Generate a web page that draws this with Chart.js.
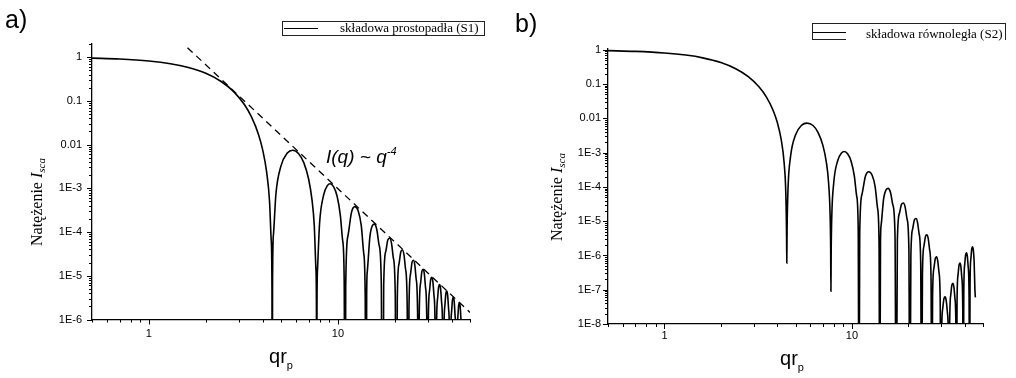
<!DOCTYPE html>
<html>
<head>
<meta charset="utf-8">
<script src="https://cdn.jsdelivr.net/npm/chart.js"></script>
<style>
  body { margin: 0; background: #fff; }
  #wrap { position: relative; width: 1016px; height: 378px; overflow: hidden; font-family: "Liberation Sans", Arial, sans-serif; color: #000; }
  canvas { position: absolute; top: 0; }
  .panel { position: absolute; font-size: 25px; line-height: 24px; }
  .xt { position: absolute; width: 100px; text-align: center; font-size: 20px; line-height: 20px; }
  .xt sub { font-size: 11px; line-height: 0; vertical-align: -6px; }
  .yt { position: absolute; width: 200px; height: 16px; text-align: center; font-family: "Liberation Serif", serif; font-size: 16px; line-height: 16px; transform: rotate(-90deg); white-space: nowrap; }
  .yt sub { font-size: 11px; line-height: 0; vertical-align: -3px; }
  .leg { position: absolute; font-family: "Liberation Serif", serif; font-size: 13px; line-height: 13px; white-space: nowrap; }
  .box { position: absolute; box-sizing: border-box; border-color: #222; border-style: solid; border-width: 0; }
  .sample { position: absolute; height: 0; border-top: 1.6px solid #000; }
  .note { position: absolute; font-style: italic; font-size: 19px; line-height: 19px; white-space: nowrap; }
  .note sup { font-size: 11px; line-height: 0; vertical-align: 8px; }
</style>
</head>
<body>
<div id="wrap">
  <canvas id="chartA" width="500" height="378" style="left:0;width:500px;height:378px"></canvas>
  <canvas id="chartB" width="516" height="378" style="left:500px;width:516px;height:378px"></canvas>

  <div class="panel" style="left:5px;top:7px">a)</div>
  <div class="panel" style="left:515px;top:11px">b)</div>

  <div class="box" style="left:282px;top:21px;width:203px;height:15px;border-width:1px"></div>
  <div class="sample" style="left:284px;top:28px;width:34px"></div>
  <div class="leg" style="left:340px;top:21px">składowa prostopadła (S1)</div>

  <div class="box" style="left:812px;top:23px;width:194px;height:17px;border-width:1px 1px 0 1px"></div>
  <div class="box" style="left:812px;top:39px;width:34px;height:1px;border-top-width:1px"></div>
  <div class="sample" style="left:813px;top:32px;width:33px"></div>
  <div class="leg" style="left:866px;top:27px">składowa równoległa (S2)</div>

  <div class="note" style="left:326px;top:147px">I(q) ~ q<sup>-4</sup></div>

  <div class="xt" style="left:231px;top:346px">qr<sub>p</sub></div>
  <div class="xt" style="left:742px;top:348px">qr<sub>p</sub></div>

  <div class="yt" style="left:-63px;top:194px">Natężenie <i>I<sub>sca</sub></i></div>
  <div class="yt" style="left:457px;top:189px">Natężenie <i>I<sub>sca</sub></i></div>
</div>

<script>
// qr_p values shared by both curves
const qX = [0.5, 0.7, 1.0, 1.3, 1.6, 2.0, 2.4, 2.8, 3.2, 3.5, 3.8, 4.0, 4.2, 4.35, 4.44, 4.48, 4.493,
  4.51, 4.56, 4.7, 5.0, 5.4, 5.76, 6.2, 6.6, 7.0, 7.3, 7.5, 7.65, 7.7, 7.725,
  7.75, 7.8, 8.0, 8.4, 8.8, 9.1, 9.5, 9.9, 10.3, 10.6, 10.8, 10.904,
  11.0, 11.3, 11.8, 12.3, 12.8, 13.3, 13.7, 13.95, 14.066,
  14.2, 14.32, 14.77, 15.22, 15.6, 16.07, 16.52, 16.97, 17.221,
  17.47, 17.92, 18.37, 18.8, 19.22, 19.67, 20.12, 20.371,
  20.62, 21.07, 21.52, 21.95, 22.37, 22.82, 23.27, 23.519,
  23.77, 24.22, 24.67, 25.09, 25.52, 25.97, 26.42, 26.666,
  26.92, 27.37, 27.82, 28.24, 28.66, 29.11, 29.56, 29.812,
  30.06, 30.51, 30.96, 31.38, 31.81, 32.26, 32.71, 32.956,
  33.21, 33.66, 34.11, 34.53, 34.95, 35.40, 35.85, 36.100,
  36.35, 36.80, 37.25, 37.67, 38.09, 38.54, 38.99, 39.244,
  39.49, 39.94, 40.39, 40.82, 41.24, 41.69, 42.14, 42.387,
  42.64, 43.09, 43.54, 43.96, 44.38, 44.83, 45.28, 45.531];

// składowa prostopadła (S1)
const iS1 = [0.951, 0.906, 0.816, 0.707, 0.587, 0.4265, 0.2816, 0.1651, 0.0824, 0.0419, 0.01713, 0.00758, 0.00231, 4.93e-4, 6.28e-5, 4.05e-6, 1e-12,
  6.08e-6, 8.66e-5, 7.4e-4, 3.26e-3, 6.40e-3, 7.43e-3, 6.21e-3, 3.87e-3, 1.633e-3, 5.30e-4, 1.396e-4, 1.45e-5, 1.66e-6, 1e-12,
  1.55e-6, 1.38e-5, 1.59e-4, 6.97e-4, 1.156e-3, 1.269e-3, 1.081e-3, 6.66e-4, 2.43e-4, 6.34e-5, 7.05e-6, 1e-12,
  5.8e-6, 8.14e-5, 2.82e-4, 3.82e-4, 3.06e-4, 1.38e-4, 3.25e-5, 3.18e-6, 1e-12,
  4.1e-6, 1.31e-5, 7.85e-5, 1.40e-4, 1.52e-4, 1.127e-4, 5.02e-5, 6.64e-6, 1e-12,
  5.91e-6, 3.62e-5, 6.60e-5, 7.2e-5, 5.51e-5, 2.5e-5, 3.36e-6, 1e-12,
  3.05e-6, 1.9e-5, 3.51e-5, 3.88e-5, 3.00e-5, 1.38e-5, 1.88e-6, 1e-12,
  1.73e-6, 1.085e-5, 2.03e-5, 2.27e-5, 1.77e-5, 8.21e-6, 1.13e-6, 1e-12,
  1.05e-6, 6.65e-6, 1.255e-5, 1.415e-5, 1.114e-5, 5.2e-6, 7.2e-7, 1e-12,
  6.7e-7, 4.31e-6, 8.18e-6, 9.28e-6, 7.34e-6, 3.45e-6, 4.8e-7, 1e-12,
  4.5e-7, 2.91e-6, 5.55e-6, 6.33e-6, 5.04e-6, 2.38e-6, 3.3e-7, 1e-12,
  3.2e-7, 2.04e-6, 3.90e-6, 4.47e-6, 3.57e-6, 1.69e-6, 2.4e-7, 1e-12,
  2.3e-7, 1.47e-6, 2.83e-6, 3.24e-6, 2.60e-6, 1.24e-6, 1.7e-7, 1e-12,
  1.7e-7, 1.08e-6, 2.09e-6, 2.41e-6, 1.94e-6, 9.2e-7, 1.3e-7, 1e-12];

// składowa równoległa (S2)
const iS2 = [0.951, 0.906, 0.816, 0.707, 0.587, 0.4265, 0.2816, 0.1651, 0.0824, 0.0419, 0.01713, 0.00758, 0.00231, 4.93e-4, 6.28e-5, 4.05e-6, 6e-7,
  6.08e-6, 8.66e-5, 7.4e-4, 3.26e-3, 6.40e-3, 7.3e-3, 6.21e-3, 3.87e-3, 1.633e-3, 5.30e-4, 1.396e-4, 1.45e-5, 1.66e-6, 9e-8,
  1.32e-6, 1.17e-5, 1.35e-4, 5.93e-4, 9.82e-4, 1.08e-3, 9.19e-4, 5.66e-4, 2.06e-4, 5.39e-5, 5.99e-6, 1e-12,
  4.23e-6, 5.94e-5, 2.06e-4, 2.79e-4, 2.23e-4, 1.01e-4, 2.37e-5, 2.32e-6, 1e-12,
  2.5e-6, 7.9e-6, 4.71e-5, 8.41e-5, 9.1e-5, 6.76e-5, 3.01e-5, 3.98e-6, 1e-12,
  2.78e-6, 1.70e-5, 3.10e-5, 3.39e-5, 2.59e-5, 1.17e-5, 1.58e-6, 1e-12,
  9.5e-7, 5.87e-6, 1.09e-5, 1.2e-5, 9.3e-6, 4.27e-6, 5.8e-7, 1e-12,
  3.0e-7, 1.91e-6, 3.57e-6, 4.0e-6, 3.12e-6, 1.44e-6, 2.0e-7, 1e-12,
  6.7e-8, 4.26e-7, 8.0e-7, 9.1e-7, 7.1e-7, 3.3e-7, 4.6e-8, 1e-12,
  4.5e-9, 2.9e-8, 5.5e-8, 6.2e-8, 4.9e-8, 2.3e-8, 3.2e-9, 1e-12,
  1.1e-8, 7.1e-8, 1.36e-7, 1.55e-7, 1.23e-7, 5.8e-8, 8.1e-9, 1e-12,
  4.3e-8, 2.73e-7, 5.2e-7, 6.0e-7, 4.8e-7, 2.26e-7, 3.2e-8, 1e-12,
  8.5e-8, 5.4e-7, 1.05e-6, 1.2e-6, 9.6e-7, 4.6e-7, 6.3e-8, 1e-12,
  1.3e-7, 8.1e-7, 1.57e-6, 1.8e-6, 1.46e-6, 6.9e-7, 9.8e-8, 6e-8];

// I(q) ~ q^-4 guide line (panel a)
const dashX = [1.6, 50];
const dashY = [1.65, 1.45e-6];

// axis ranges
const xRange = [0.5, 50];
const yRangeA = [1e-6, 2];
const yRangeB = [1e-8, 1.1];

function powLabel(v) {
  const e = Math.log10(v), k = Math.round(e);
  if (Math.abs(e - k) > 1e-6) return '';
  if (k >= -2) return Math.pow(10, k).toFixed(Math.max(0, -k));
  return '1E' + k;
}

// short outward tick marks: long at decades, short at 2..9
const tickMarks = {
  id: 'tickMarks',
  afterDraw(chart) {
    const ctx = chart.ctx;
    ctx.save();
    ctx.strokeStyle = '#000';
    ctx.lineWidth = 1;
    ['x', 'y'].forEach(id => {
      const s = chart.scales[id];
      const lo = Math.floor(Math.log10(s.min)), hi = Math.ceil(Math.log10(s.max));
      for (let d = lo; d <= hi; d++) {
        for (let m = 1; m < 10; m++) {
          const v = m * Math.pow(10, d);
          if (v < s.min * 0.999 || v > s.max * 1.001) continue;
          const len = m === 1 ? 5 : 3;
          const p = Math.round(s.getPixelForValue(v)) + 0.5;
          ctx.beginPath();
          if (id === 'x') { ctx.moveTo(p, s.top); ctx.lineTo(p, s.top + len); }
          else { ctx.moveTo(s.right, p); ctx.lineTo(s.right - len, p); }
          ctx.stroke();
        }
      }
    });
    ctx.restore();
  }
};

function points(xs, ys) {
  return xs.map((x, i) => ({ x: x, y: ys[i] }));
}

function axes(yRange, yWidth, xHeight, yPad, xPad) {
  const font = { family: 'Liberation Sans', size: 11 };
  return {
    x: {
      type: 'logarithmic', min: xRange[0], max: xRange[1],
      grid: { display: false, drawTicks: false },
      border: { display: true, color: '#000', width: 1.3 },
      ticks: { autoSkip: false, maxRotation: 0, padding: xPad, color: '#000', font: font, callback: powLabel },
      afterFit(s) { s.height = xHeight; }
    },
    y: {
      type: 'logarithmic', min: yRange[0], max: yRange[1],
      grid: { display: false, drawTicks: false },
      border: { display: true, color: '#000', width: 1.3 },
      ticks: { autoSkip: false, padding: yPad, color: '#000', font: font, callback: powLabel },
      afterFit(s) { s.width = yWidth; }
    }
  };
}

const common = {
  responsive: false,
  animation: false,
  devicePixelRatio: 1,
  plugins: { legend: { display: false }, tooltip: { enabled: false } },
  elements: { point: { radius: 0 } }
};

new Chart(document.getElementById('chartA'), {
  type: 'line',
  data: {
    datasets: [
      { data: points(qX, iS1), borderColor: '#000', borderWidth: 1.6, cubicInterpolationMode: 'monotone', fill: false },
      { data: points(dashX, dashY), borderColor: '#000', borderWidth: 1.3, borderDash: [7, 5], fill: false }
    ]
  },
  options: Object.assign({}, common, {
    layout: { padding: { left: 0, right: 30, top: 44, bottom: 0 } },
    scales: axes(yRangeA, 92, 58.5, 10, 8)
  }),
  plugins: [tickMarks]
});

new Chart(document.getElementById('chartB'), {
  type: 'line',
  data: {
    datasets: [
      { data: points(qX, iS2), borderColor: '#000', borderWidth: 1.6, cubicInterpolationMode: 'monotone', fill: false }
    ]
  },
  options: Object.assign({}, common, {
    layout: { padding: { left: 0, right: 33, top: 48.5, bottom: 0 } },
    scales: axes(yRangeB, 108, 54, 7, 5)
  }),
  plugins: [tickMarks]
});
</script>
</body>
</html>
